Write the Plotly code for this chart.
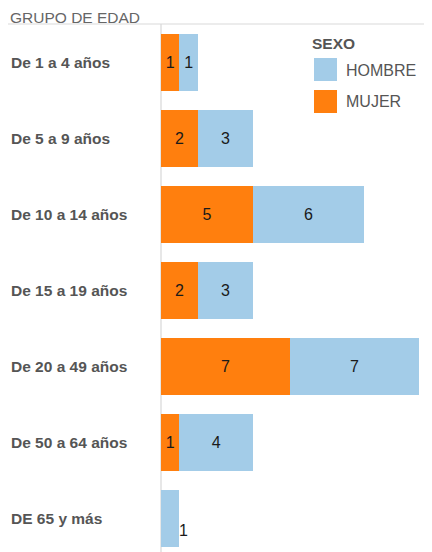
import plotly.graph_objects as go

categories = ["De 1 a 4 años", "De 5 a 9 años", "De 10 a 14 años", "De 15 a 19 años",
              "De 20 a 49 años", "De 50 a 64 años", "DE 65 y más"]
mujer = [1, 2, 5, 2, 7, 1, 0]
hombre = [1, 3, 6, 3, 7, 4, 1]

C_MUJER = "#FF7F0E"
C_HOMBRE = "#A3CCE8"
FONT = "Liberation Sans, Arial, sans-serif"

OFF = 8  # page body margin
W, H = 432 - OFF, 552 - OFF
L, T = 161 - OFF, 24 - OFF
PW, PH = W - L, H - T

def px(x):
    # reference-window pixel x -> paper coordinate
    return (x - OFF - L) / PW

def py(y):
    # reference-window pixel y -> paper coordinate
    return (H - (y - OFF)) / PH

fig = go.Figure()
fig.add_trace(go.Bar(
    y=categories, x=mujer, orientation="h", name="MUJER",
    marker=dict(color=C_MUJER, line=dict(width=0)),
    text=[str(v) if v else "" for v in mujer], textposition="inside",
    insidetextanchor="middle", textangle=0,
    textfont=dict(family=FONT, size=16, color="#1a1a1a"),
    hoverinfo="skip", showlegend=False,
))
h_text = [str(v) if (v and m) else "" for v, m in zip(hombre, mujer)]
fig.add_trace(go.Bar(
    y=categories, x=hombre, orientation="h", name="HOMBRE",
    marker=dict(color=C_HOMBRE, line=dict(width=0)),
    text=h_text, textposition="inside",
    insidetextanchor="middle", textangle=0,
    textfont=dict(family=FONT, size=16, color="#1a1a1a"),
    hoverinfo="skip", showlegend=False,
))

annotations = []
for c, v, m in zip(categories, hombre, mujer):
    if v and not m:
        annotations.append(dict(x=v, y=c, xref="x", yref="y", text=str(v),
                                showarrow=False, xanchor="left", yanchor="middle",
                                xshift=-2, yshift=-12,
                                font=dict(family=FONT, size=16, color="#1a1a1a")))
for c in categories:
    annotations.append(dict(x=px(10), y=c, xref="paper", yref="y", text="<b>%s</b>" % c,
                            showarrow=False, xanchor="left", yanchor="middle",
                            xshift=-1,
                            font=dict(family=FONT, size=15.5, color="#555")))
annotations.append(dict(x=px(10), y=py(8), xref="paper", yref="paper", text="GRUPO DE EDAD",
                        showarrow=False, xanchor="left", yanchor="top", borderpad=0,
                        xshift=-1,
                        font=dict(family=FONT, size=15.5, color="#666")))
annotations.append(dict(x=px(311), y=py(43), xref="paper", yref="paper", text="<b>SEXO</b>",
                        showarrow=False, xanchor="left", yanchor="middle",
                        xshift=-1,
                        font=dict(family=FONT, size=15.5, color="#555")))
annotations.append(dict(x=px(345), y=py(70), xref="paper", yref="paper", text="HOMBRE",
                        showarrow=False, xanchor="left", yanchor="middle",
                        xshift=-1,
                        font=dict(family=FONT, size=16, color="#555")))
annotations.append(dict(x=px(345), y=py(101), xref="paper", yref="paper", text="MUJER",
                        showarrow=False, xanchor="left", yanchor="middle",
                        xshift=-1,
                        font=dict(family=FONT, size=16, color="#555")))

shapes = [
    dict(type="line", xref="paper", yref="paper", x0=px(0), x1=1, y0=1, y1=1,
         line=dict(color="#d9d9d9", width=1)),
    dict(type="line", xref="paper", yref="paper", x0=0, x1=0, y0=0, y1=1,
         line=dict(color="#cfcfcf", width=1), layer="below"),
    dict(type="rect", xref="paper", yref="paper", x0=px(314), x1=px(337), y0=py(81), y1=py(58),
         fillcolor=C_HOMBRE, line=dict(width=0)),
    dict(type="rect", xref="paper", yref="paper", x0=px(314), x1=px(337), y0=py(113), y1=py(90),
         fillcolor=C_MUJER, line=dict(width=0)),
]

fig.update_layout(
    width=W, height=H, barmode="stack", bargap=0.25,
    margin=dict(l=L, r=0, t=T, b=0, pad=0),
    paper_bgcolor="white", plot_bgcolor="white",
    xaxis=dict(range=[0, PW / 18.43], showgrid=False, zeroline=False,
               showticklabels=False, showline=False, fixedrange=True),
    yaxis=dict(categoryorder="array", categoryarray=categories,
               range=[PH / 76 - 0.5, -0.5],
               showgrid=False, zeroline=False, showticklabels=False, showline=False),
    annotations=annotations, shapes=shapes,
    uniformtext=dict(minsize=16, mode="show"),
    font=dict(family=FONT),
)

fig.write_html("out.html")
